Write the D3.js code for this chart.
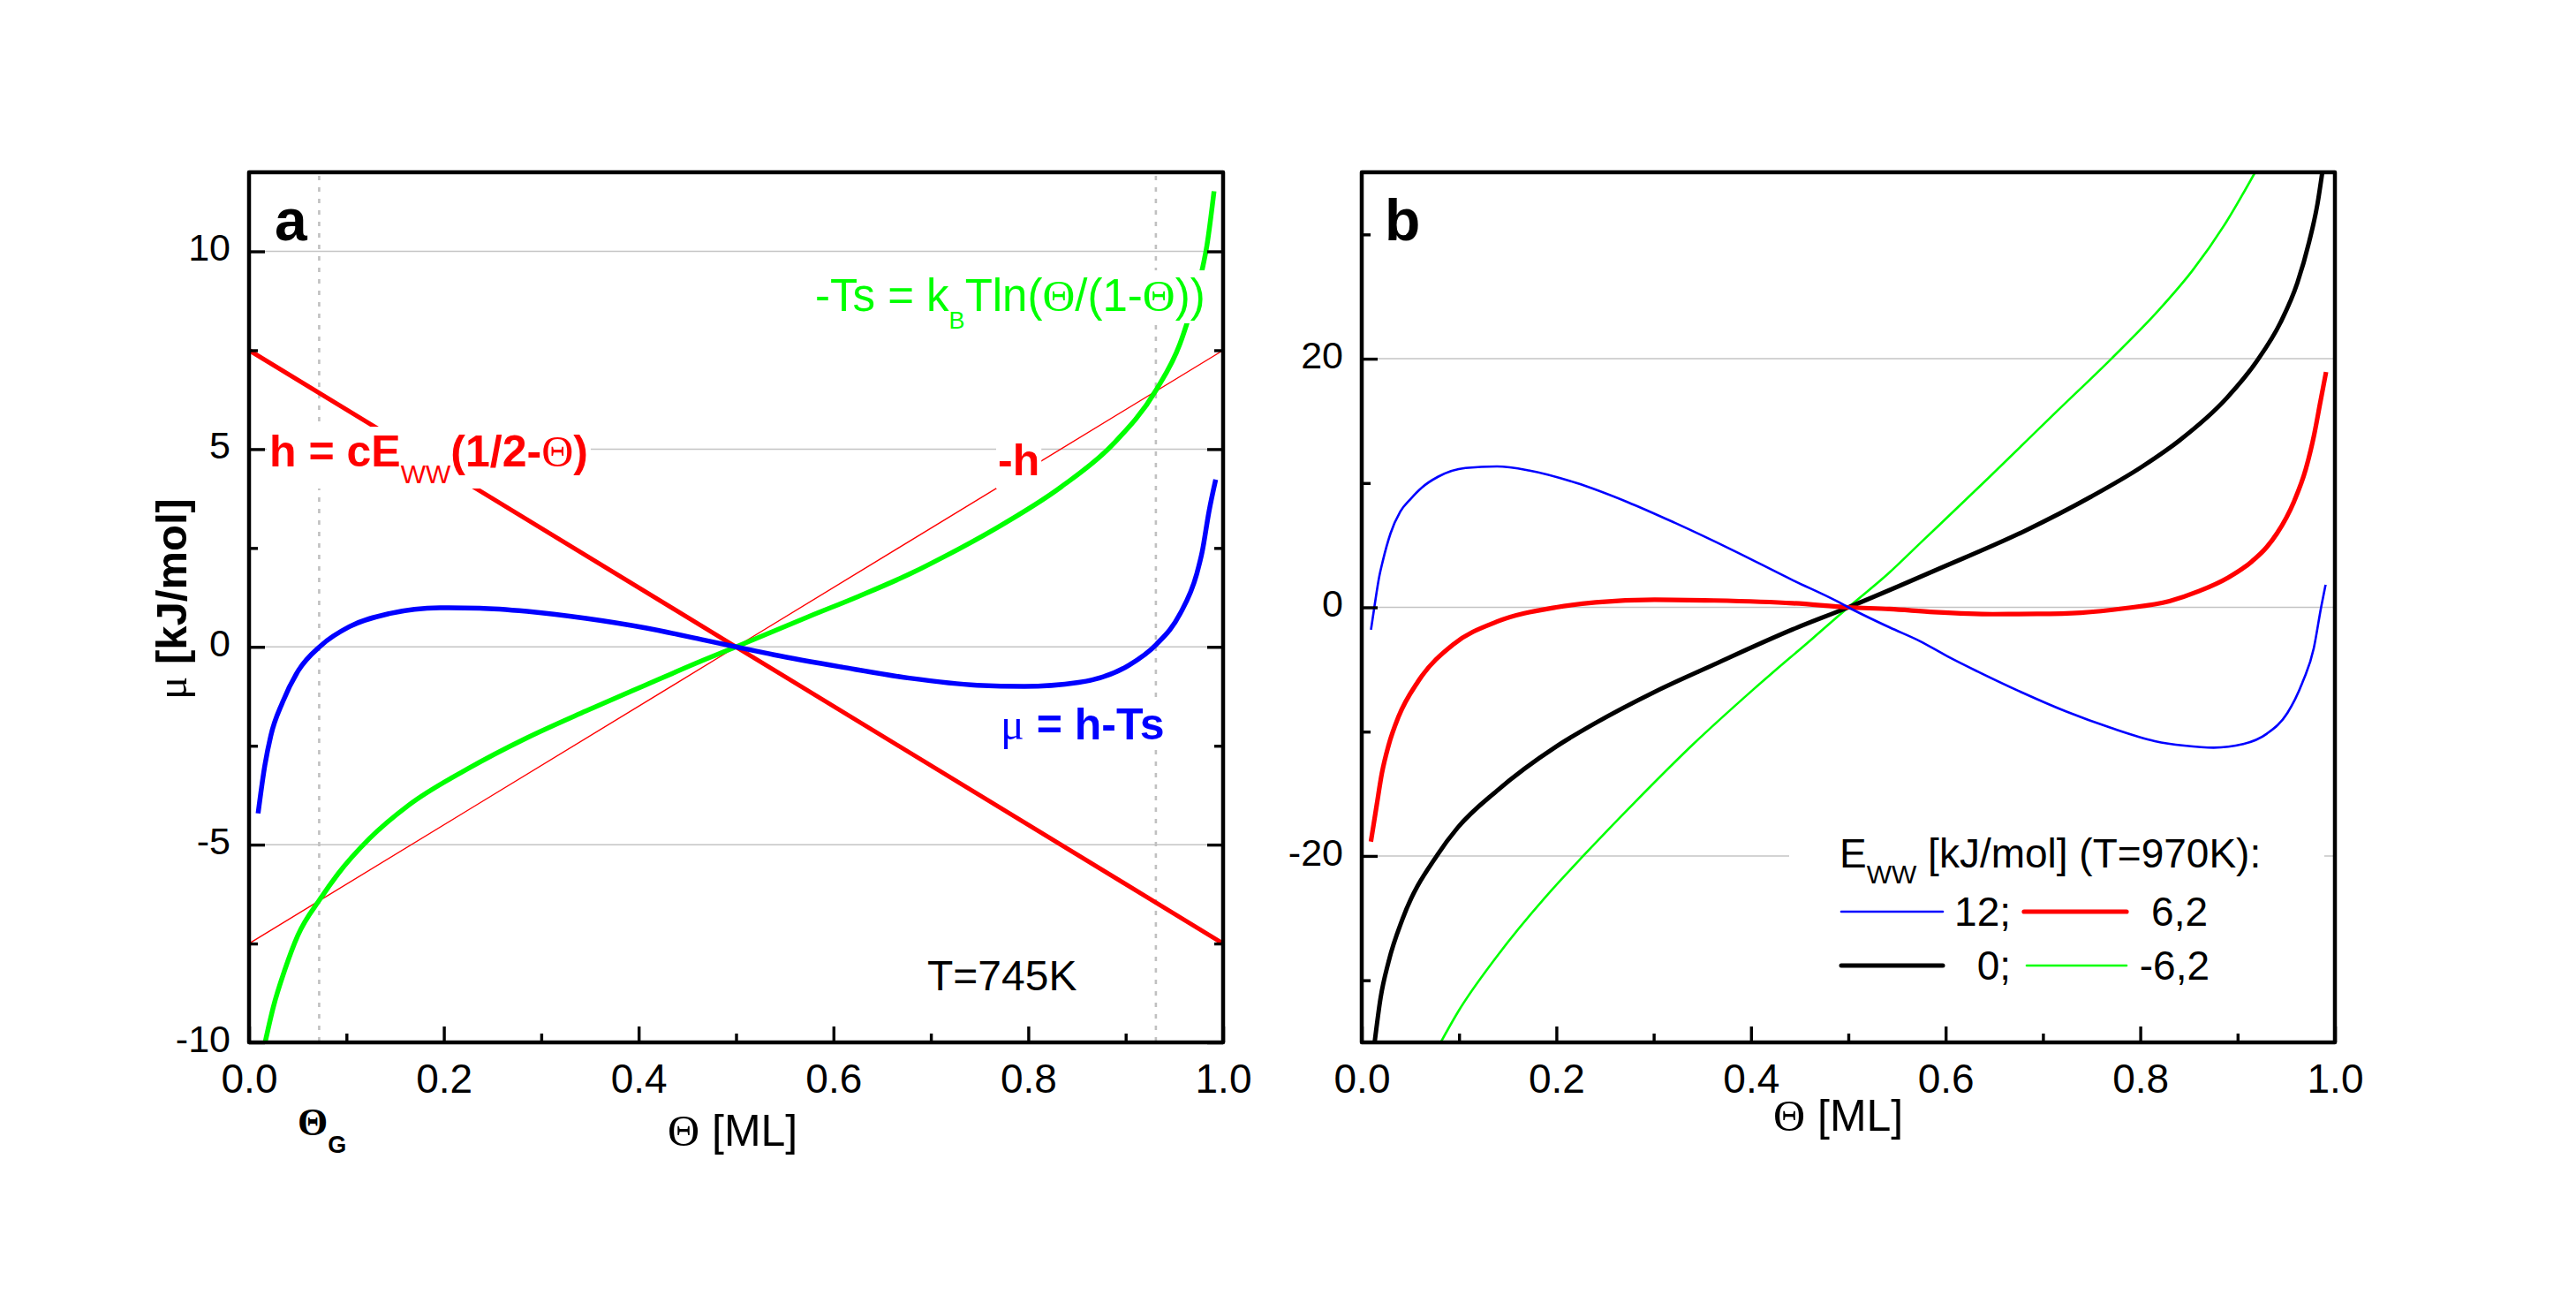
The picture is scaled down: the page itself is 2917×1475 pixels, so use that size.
<!DOCTYPE html>
<html><head><meta charset="utf-8">
<script src="https://cdn.jsdelivr.net/npm/d3@7"></script>
<style>
html,body{margin:0;padding:0;background:#fff;}
svg{display:block;}
text{font-family:"Liberation Sans",Arial,sans-serif;}
.sym{font-family:"Liberation Serif","Times New Roman",serif;}
</style></head><body>
<svg id="chart" width="2917" height="1475"></svg>
<script>
// ---------- tick / grid definitions ----------
const xTicks = [0, 0.2, 0.4, 0.6, 0.8, 1.0];
const xMinor = [0.1, 0.3, 0.5, 0.7, 0.9];
const aYTicks = [-10, -5, 0, 5, 10];
const aYMinor = [-7.5, -2.5, 2.5, 7.5];
const aGrid = [-5, 0, 5, 10];
const bYTicks = [-20, 0, 20];
const bYMinor = [-30, -10, 10, 30];
const bGrid = [-20, 0, 20];
const thetaG = [0.072, 0.931];

// ---------- panel a (T = 745 K) ----------
const aHTheta = [0, 0.5, 1];
const aHValues = [7.5, 0, -7.5];          // h = cEww(1/2-Θ)
const aNegHValues = [-7.5, 0, 7.5];       // -h
const aTsTheta = [0.0165, 0.025, 0.0364, 0.05, 0.0737, 0.091, 0.1235, 0.164, 0.2247, 0.2853, 0.346, 0.4066, 0.467, 0.5,
                  0.574, 0.626, 0.6815, 0.7128, 0.7648, 0.834, 0.886, 0.9314, 0.9557, 0.9643, 0.9782, 0.9834, 0.9907];
const aTsValues = [-10.0, -9.1, -8.19, -7.3, -6.35, -5.75, -4.85, -4.0, -3.08, -2.3, -1.62, -0.97, -0.33, 0,
                   0.76, 1.28, 1.88, 2.27, 2.97, 4.05, 5.1, 6.5, 7.66, 8.29, 9.5, 10.15, 11.52];
const aMuTheta = [0.0093, 0.0162, 0.0223, 0.0344, 0.0506, 0.0737, 0.103, 0.1437, 0.196, 0.2368, 0.2853, 0.346,
                  0.4068, 0.4675, 0.5, 0.539, 0.6086, 0.678, 0.7475, 0.796, 0.8516, 0.9036, 0.9314, 0.9557,
                  0.973, 0.9785, 0.9855, 0.9924];
const aMuValues = [-4.21, -3.0, -2.25, -1.4, -0.6, 0.03, 0.51, 0.84, 0.99, 0.98, 0.90, 0.72,
                   0.48, 0.17, 0, -0.2, -0.51, -0.79, -0.97, -1.0, -0.9, -0.46, 0.06, 0.83,
                   1.85, 2.4, 3.42, 4.23];

// ---------- panel b (T = 970 K), Eww in kJ/mol ----------
const bLegend = ["12;", "6,2", "0;", "-6,2"];
const b12Theta = [0.0095, 0.0133, 0.0182, 0.0214, 0.0296, 0.0396, 0.05, 0.062, 0.0783, 0.1066, 0.139, 0.1715, 0.22,
                  0.2728, 0.3214, 0.3822, 0.443, 0.4876, 0.5, 0.5425, 0.5728, 0.603, 0.6333, 0.6787, 0.7241,
                  0.7695, 0.8149, 0.8451, 0.8754, 0.9057, 0.93, 0.9511, 0.9662, 0.9783, 0.9859, 0.9904];
const b12Values = [-1.8, 0.2, 2.55, 3.65, 5.95, 7.7, 8.7, 9.65, 10.5, 11.21, 11.33, 11.02, 10.02,
                   8.48, 6.81, 4.56, 2.18, 0.52, 0, -1.62, -2.69, -3.99, -5.18, -6.86, -8.39,
                   -9.69, -10.76, -11.12, -11.29, -11.0, -10.17, -8.51, -6.13, -3.28, 0.04, 1.82];
const b62Theta = [0.0094, 0.0154, 0.0207, 0.0276, 0.0378, 0.058, 0.0944, 0.139, 0.1998, 0.2403, 0.301, 0.362,
                  0.443, 0.5, 0.5425, 0.588, 0.6485, 0.694, 0.739, 0.7847, 0.83, 0.8603, 0.8905, 0.9148,
                  0.93, 0.9405, 0.9579, 0.97, 0.9787, 0.985, 0.9909];
const b62Values = [-18.85, -15.9, -13.35, -11.1, -8.8, -5.95, -2.96, -1.15, 0, 0.4, 0.62, 0.55,
                   0.33, 0, -0.14, -0.38, -0.55, -0.53, -0.43, -0.07, 0.5, 1.3, 2.4, 3.7,
                   4.85, 5.95, 8.5, 11.1, 13.9, 16.5, 18.93];
const b0Theta = [0.0133, 0.0194, 0.0276, 0.0418, 0.0783, 0.0985, 0.139, 0.1998, 0.2403, 0.301, 0.362, 0.443,
                 0.5, 0.5516, 0.593, 0.68, 0.7494, 0.8015, 0.8398, 0.8884, 0.9197, 0.944, 0.9614, 0.9735,
                 0.9822, 0.987];
const b0Values = [-34.96, -31.4, -28.5, -25.1, -19.85, -17.73, -14.75, -11.2, -9.3, -6.8, -4.6, -1.77,
                  0, 1.7, 3.1, 6.1, 8.9, 11.3, 13.4, 16.8, 19.8, 22.9, 26.1, 29.4,
                  32.5, 34.97];
const bm62Theta = [0.0814, 0.0985, 0.139, 0.1917, 0.2282, 0.2809, 0.3417, 0.4025, 0.4633, 0.5, 0.5403, 0.5757,
                   0.6452, 0.7147, 0.7703, 0.8189, 0.8537, 0.8884, 0.918];
const bm62Values = [-34.96, -32.6, -28.07, -23.05, -19.95, -15.66, -10.93, -6.6, -2.5, 0, 2.66, 5.3,
                    10.5, 15.8, 20.0, 23.9, 27.1, 31.0, 35.0];

// ---------- drawing ----------
const svg = d3.select("#chart");
svg.append("rect").attr("width", 2917).attr("height", 1475).attr("fill", "#ffffff");

const TOP = 195, BOT = 1180;
const xa = d3.scaleLinear().domain([0, 1]).range([282, 1385]);
const ya = d3.scaleLinear().domain([-10, 12]).range([BOT, TOP]);
const xb = d3.scaleLinear().domain([0, 1]).range([1542, 2644]);
const yb = d3.scaleLinear().domain([-35, 35]).range([BOT, TOP]);

const defs = svg.append("defs");
function clip(id, x, y) {
  defs.append("clipPath").attr("id", id).append("rect")
    .attr("x", x.range()[0]).attr("y", y.range()[1])
    .attr("width", x.range()[1] - x.range()[0]).attr("height", y.range()[0] - y.range()[1]);
}
clip("clipA", xa, ya); clip("clipB", xb, yb);

const layerGrid = svg.append("g");
const layerBelow = svg.append("g");
const layerCurves = svg.append("g");
const layerBoxes = svg.append("g");
const layerText = svg.append("g");
const layerAxes = svg.append("g");

// gridlines
function grid(x, y, vals) {
  layerGrid.selectAll(null).data(vals).enter().append("line")
    .attr("x1", x.range()[0]).attr("x2", x.range()[1])
    .attr("y1", d => y(d)).attr("y2", d => y(d))
    .attr("stroke", "#c4c4c4").attr("stroke-width", 1.5);
}
grid(xa, ya, aGrid); grid(xb, yb, bGrid);

// Θ_G dotted lines
layerGrid.selectAll(null).data(thetaG).enter().append("line")
  .attr("x1", d => xa(d)).attr("x2", d => xa(d))
  .attr("y1", ya(12) + 4).attr("y2", ya(-10))
  .attr("stroke", "#c0c0c0").attr("stroke-width", 2.6).attr("stroke-dasharray", "5,8");

// curves
function curve(x, y, th, vals, color, w, clipId) {
  const line = d3.line().x(d => x(d[0])).y(d => y(d[1])).curve(d3.curveMonotoneX);
  layerCurves.append("path").datum(d3.zip(th, vals))
    .attr("d", line).attr("fill", "none").attr("stroke", color)
    .attr("stroke-width", w).attr("stroke-linejoin", "round")
    .attr("clip-path", `url(#${clipId})`);
}
curve(xa, ya, aHTheta, aNegHValues, "#ff0000", 1.4, "clipA");
curve(xa, ya, aHTheta, aHValues, "#ff0000", 5, "clipA");
curve(xa, ya, aTsTheta, aTsValues, "#00ff00", 5.5, "clipA");
curve(xa, ya, aMuTheta, aMuValues, "#0000ff", 5.5, "clipA");

curve(xb, yb, bm62Theta, bm62Values, "#00ff00", 2.6, "clipB");
curve(xb, yb, b0Theta, b0Values, "#000000", 5, "clipB");
curve(xb, yb, b62Theta, b62Values, "#ff0000", 5.2, "clipB");
curve(xb, yb, b12Theta, b12Values, "#0000ff", 2.6, "clipB");

// text helper
function label(layer, x, y, parts, opts) {
  const t = layer.append("text").attr("x", x).attr("y", y)
    .attr("fill", opts.fill || "#000").attr("font-size", opts.size)
    .attr("font-weight", opts.weight || "normal");
  if (opts.anchor) t.attr("text-anchor", opts.anchor);
  if (opts.transform) t.attr("transform", opts.transform).attr("x", 0).attr("y", 0);
  parts.forEach(p => {
    const s = t.append("tspan").text(p.t);
    if (p.cls) s.attr("class", p.cls);
    if (p.size) s.attr("font-size", p.size);
    if (p.weight) s.attr("font-weight", p.weight);
    if (p.dy) s.attr("dy", p.dy);
  });
  return t;
}
function box(t, boxLayer, pad) {
  const b = t.node().getBBox();
  boxLayer.append("rect").attr("x", b.x - pad[0]).attr("y", b.y + pad[1])
    .attr("width", b.width + 2 * pad[0]).attr("height", b.height - pad[1] + pad[2])
    .attr("fill", "#ffffff");
}

// panel letters
label(layerText, 311, 272, [{t: "a"}], {size: 66, weight: "bold"});
label(layerText, 1568, 272, [{t: "b"}], {size: 66, weight: "bold"});

// panel a annotations
let t;
t = label(layerText, 305, 528, [
  {t: "h = cE"}, {t: "WW", size: 30, weight: "normal", dy: 19},
  {t: "(1/2-", dy: -19}, {t: "Θ", cls: "sym", weight: "normal"}, {t: ")"}
], {fill: "#ff0000", size: 50, weight: "bold"});
box(t, layerBoxes, [3, 0, 0]);

t = label(layerText, 1130, 538, [{t: "-h"}], {fill: "#ff0000", size: 50, weight: "bold"});
box(t, layerBoxes, [2, 0, 4]);

t = label(layerText, 923, 352, [
  {t: "-Ts = k"}, {t: "B", size: 27, dy: 20}, {t: "Tln(", size: 51, dy: -20},
  {t: "Θ", cls: "sym"}, {t: "/(1-"}, {t: "Θ", cls: "sym"}, {t: "))"}
], {fill: "#00ff00", size: 51});
box(t, layerBoxes, [4, 0, -12]);

t = label(layerText, 1133, 837, [
  {t: "μ", cls: "sym", weight: "normal"}, {t: " = h-Ts"}
], {fill: "#0000ff", size: 50, weight: "bold"});
box(t, layerBelow, [4, 0, 0]);

label(layerText, 1050, 1121, [{t: "T=745K"}], {size: 48});

// Θ_G
label(layerText, 337, 1285, [
  {t: "Θ", cls: "sym", size: 44}, {t: "G", size: 27, dy: 20}
], {size: 44, weight: "bold"});

// axis titles
label(layerText, 0, 0, [{t: "μ", cls: "sym", weight: "normal"}, {t: " [kJ/mol]"}],
  {size: 49, weight: "bold", anchor: "middle", transform: "translate(211,678) rotate(-90)"});
label(layerText, 756, 1297, [{t: "Θ", cls: "sym"}, {t: " [ML]"}], {size: 50});
label(layerText, 2008, 1280, [{t: "Θ", cls: "sym"}, {t: " [ML]"}], {size: 50});

// legend (panel b)
layerBelow.append("rect").attr("x", 2026).attr("y", 925).attr("width", 606).attr("height", 210).attr("fill", "#fff");
label(layerText, 2083, 982, [
  {t: "E"}, {t: "WW", size: 30, dy: 18}, {t: " [kJ/mol] (T=970K):", size: 46, dy: -18}
], {size: 46});
const legRows = [
  {y: 1032, items: [{c: "#0000ff", w: 2.6, x1: 2085, x2: 2200, lab: bLegend[0], lx: 2277},
                    {c: "#ff0000", w: 5.2, x1: 2292, x2: 2408, lab: bLegend[1], lx: 2500}]},
  {y: 1093, items: [{c: "#000000", w: 5, x1: 2085, x2: 2200, lab: bLegend[2], lx: 2277},
                    {c: "#00ff00", w: 2.6, x1: 2295, x2: 2408, lab: bLegend[3], lx: 2502}]}
];
legRows.forEach(r => r.items.forEach(it => {
  layerText.append("line").attr("x1", it.x1).attr("x2", it.x2).attr("y1", r.y).attr("y2", r.y)
    .attr("stroke", it.c).attr("stroke-width", it.w).attr("stroke-linecap", "round");
  label(layerText, it.lx, r.y + 16, [{t: it.lab}], {size: 46, anchor: "end"});
}));

// axes & frames
function frame(x, y) {
  const [x0, x1] = x.range(), [y1, y0] = y.range();
  layerAxes.append("path")
    .attr("d", `M${x0},${y1}L${x0},${y0}L${x1},${y0}L${x1},${y1}Z`)
    .attr("fill", "none").attr("stroke", "#000").attr("stroke-width", 4.5)
    .attr("stroke-linejoin", "round");
}
function styleAxis(g, fs) {
  g.select(".domain").remove();
  g.selectAll(".tick line").attr("stroke", "#000").attr("stroke-width", 3.4);
  g.selectAll(".tick text").attr("fill", "#000").attr("font-size", fs)
    .attr("font-family", "'Liberation Sans', Arial, sans-serif");
}
const yFmt = d => String(d);   // plain hyphen-minus as in the original
function axes(x, y, yMaj, yMin, rightTicks) {
  const [x0, x1] = x.range(), [y1, y0] = y.range();
  let g = layerAxes.append("g").attr("transform", `translate(0,${y1})`)
    .call(d3.axisBottom(x).tickValues(xMinor).tickSize(-10).tickFormat(""));
  styleAxis(g, 46);
  g = layerAxes.append("g").attr("transform", `translate(0,${y1})`)
    .call(d3.axisBottom(x).tickValues(xTicks).tickSize(-18).tickPadding(24).tickFormat(d3.format(".1f")));
  styleAxis(g, 46);
  g = layerAxes.append("g").attr("transform", `translate(${x0},0)`)
    .call(d3.axisLeft(y).tickValues(yMin).tickSize(-10).tickFormat(""));
  styleAxis(g, 43);
  g = layerAxes.append("g").attr("transform", `translate(${x0},0)`)
    .call(d3.axisLeft(y).tickValues(yMaj).tickSize(-18).tickPadding(21).tickFormat(yFmt));
  styleAxis(g, 43);
  g.selectAll(".tick text").attr("dy", "0.24em");
  if (rightTicks) {
    g = layerAxes.append("g").attr("transform", `translate(${x1},0)`)
      .call(d3.axisRight(y).tickValues(yMin).tickSize(-10).tickFormat(""));
    styleAxis(g, 43);
    g = layerAxes.append("g").attr("transform", `translate(${x1},0)`)
      .call(d3.axisRight(y).tickValues(yMaj).tickSize(-18).tickFormat(""));
    styleAxis(g, 43);
  }
  frame(x, y);
}
axes(xa, ya, aYTicks, aYMinor, true);
axes(xb, yb, bYTicks, bYMinor, false);
</script>
</body></html>
